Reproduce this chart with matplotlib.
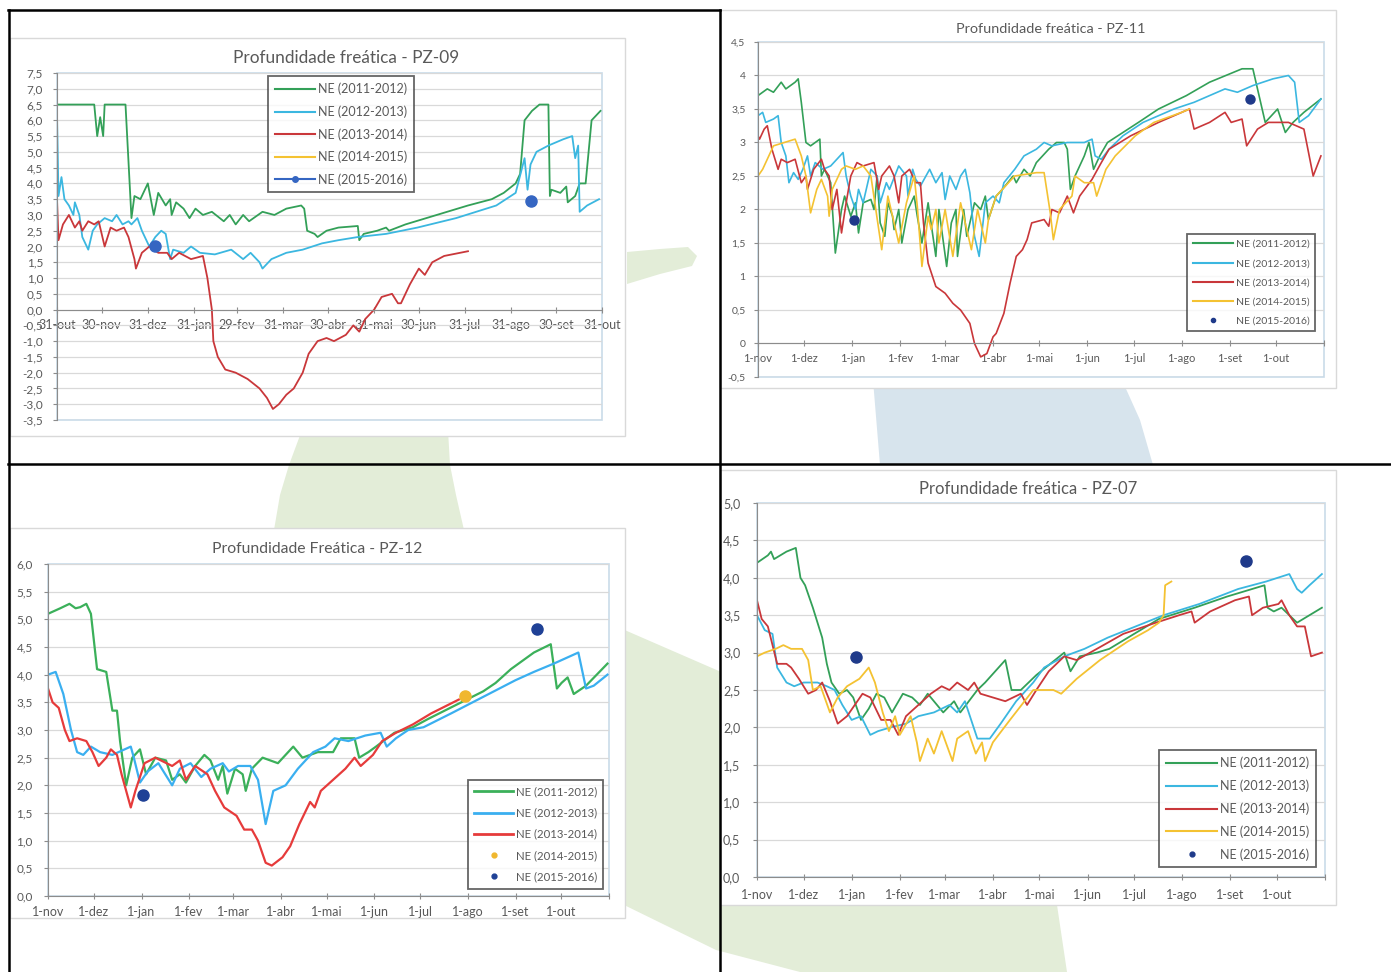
import numpy as np
import matplotlib.pyplot as plt
from matplotlib.lines import Line2D
from matplotlib.patches import Polygon, Rectangle
from matplotlib.ticker import FuncFormatter, FixedLocator

W, H = 1391, 972

# ---- eixo x (dias desde o início do ano hidrológico) ----
month_pos = [0, 30, 61, 92, 121, 152, 182, 213, 243, 274, 305, 335, 366]
labels_pz09 = ["31-out", "30-nov", "31-dez", "31-jan", "29-fev", "31-mar", "30-abr",
               "31-mai", "30-jun", "31-jul", "31-ago", "30-set", "31-out"]
labels_1m = ["1-nov", "1-dez", "1-jan", "1-fev", "1-mar", "1-abr", "1-mai",
             "1-jun", "1-jul", "1-ago", "1-set", "1-out", ""]
series_names = ["NE (2011-2012)", "NE (2012-2013)", "NE (2013-2014)",
                "NE (2014-2015)", "NE (2015-2016)"]

# ---- PZ-09 ----
pz09_green_d = [0, 25, 27, 29, 31, 32, 46, 50, 52, 56, 60, 61, 65, 68, 73, 76, 77, 80, 85, 89,
                93, 98, 104, 112, 116, 120, 125, 129, 138, 146, 154, 164, 166, 168, 173, 175,
                181, 189, 202, 203, 206, 215, 221, 223, 234, 255, 276, 292, 300, 308, 311,
                314, 319, 324, 330, 331, 332, 338, 342, 343, 348, 351, 355, 359, 365]
pz09_green_v = [6.5, 6.5, 5.5, 6.1, 5.5, 6.5, 6.5, 2.9, 3.6, 3.5, 3.9, 4.0, 3.0, 3.7, 3.3, 3.5,
                3.0, 3.4, 3.2, 2.9, 3.2, 3.0, 3.1, 2.8, 3.0, 2.7, 3.0, 2.8, 3.1, 3.0, 3.2, 3.3,
                3.2, 2.5, 2.4, 2.3, 2.5, 2.6, 2.65, 2.2, 2.4, 2.5, 2.6, 2.5, 2.7, 3.0, 3.3,
                3.5, 3.7, 4.0, 4.3, 6.0, 6.3, 6.5, 6.5, 3.6, 3.8, 3.7, 3.9, 3.4, 3.6, 4.0,
                4.0, 6.0, 6.3]
pz09_cyan_d = [0, 1, 3, 5, 8, 11, 12, 15, 17, 20, 21, 24, 27, 32, 37, 40, 44, 48, 50, 54, 57,
               60, 62, 66, 70, 73, 76, 78, 85, 90, 96, 106, 117, 125, 130, 136, 138, 144, 154,
               165, 178, 189, 202, 221, 242, 268, 295, 308, 314, 316, 318, 322, 330, 340,
               346, 348, 350, 351, 356, 364]
pz09_cyan_v = [6.2, 3.6, 4.2, 3.5, 3.3, 3.0, 3.4, 3.0, 2.3, 2.0, 1.9, 2.5, 2.7, 2.9, 2.8, 3.0,
               2.7, 2.8, 2.7, 2.9, 2.5, 2.2, 2.0, 2.3, 2.5, 2.4, 1.6, 1.9, 1.8, 2.0, 1.8, 1.75,
               1.9, 1.6, 1.8, 1.5, 1.3, 1.6, 1.8, 1.9, 2.1, 2.2, 2.3, 2.4, 2.6, 2.9, 3.3, 3.7,
               4.8, 3.8, 4.6, 5.0, 5.2, 5.4, 5.5, 4.8, 5.2, 3.1, 3.3, 3.5]
pz09_red_d = [0, 1, 4, 8, 12, 15, 17, 21, 25, 28, 32, 36, 40, 45, 48, 52, 53, 57, 62, 68, 74,
              77, 82, 90, 98, 101, 104, 105, 108, 113, 120, 128, 136, 141, 145, 149, 154, 159,
              165, 169, 175, 181, 186, 194, 199, 203, 207, 213, 218, 225, 229, 231, 237, 243,
              247, 252, 260, 276]
pz09_red_v = [3.5, 2.2, 2.7, 3.0, 2.6, 2.8, 2.5, 2.8, 2.7, 2.8, 2.0, 2.6, 2.5, 2.6, 2.3, 1.6,
              1.3, 1.8, 2.0, 1.8, 1.8, 1.6, 1.8, 1.6, 1.7, 1.0, 0.0, -1.0, -1.5, -1.9, -2.0,
              -2.2, -2.5, -2.8, -3.15, -3.0, -2.7, -2.5, -2.0, -1.4, -1.0, -0.9, -1.0, -0.8,
              -0.5, -0.7, -0.3, 0.0, 0.4, 0.5, 0.2, 0.2, 0.8, 1.3, 1.1, 1.5, 1.7, 1.85]
pz09_yellow_d = []
pz09_yellow_v = []
pz09_blue_d = [66, 318]
pz09_blue_v = [2.0, 3.43]

# ---- PZ-11 ----
pz11_green_d = [0, 6, 10, 15, 18, 24, 26, 28, 31, 34, 40, 41, 43, 47, 50, 54, 56, 60, 63, 65,
                68, 73, 75, 77, 79, 82, 84, 87, 88, 91, 93, 97, 101, 103, 106, 110, 115, 117,
                122, 125, 128, 129, 133, 135, 140, 144, 147, 149, 154, 158, 165, 167, 172,
                176, 180, 188, 193, 198, 200, 202, 205, 211, 214, 217, 221, 226, 236, 246,
                259, 277, 292, 313, 320, 328, 332, 336, 341, 346, 353, 364]
pz11_green_v = [3.7, 3.8, 3.75, 3.9, 3.8, 3.9, 3.95, 3.6, 3.0, 2.95, 3.05, 2.5, 2.6, 2.4, 1.35,
                2.0, 2.2, 1.9, 2.1, 1.65, 2.1, 2.15, 2.0, 2.5, 1.8, 1.6, 2.1, 1.9, 1.7, 2.0,
                1.5, 2.0, 2.2, 1.9, 1.5, 2.1, 1.3, 2.0, 1.15, 1.8, 2.0, 1.3, 2.0, 1.6, 2.1,
                2.0, 2.2, 1.85, 2.2, 2.3, 2.5, 2.4, 2.6, 2.5, 2.7, 2.9, 3.0, 3.0, 2.9, 2.3,
                2.5, 2.8, 3.0, 2.6, 2.8, 3.0, 3.15, 3.3, 3.5, 3.7, 3.9, 4.1, 4.1, 3.3, 3.4,
                3.5, 3.15, 3.3, 3.45, 3.65]
pz11_cyan_d = [0, 3, 5, 10, 13, 15, 18, 20, 23, 26, 29, 32, 34, 37, 42, 47, 55, 57, 60, 63,
               65, 68, 73, 77, 79, 83, 85, 91, 96, 97, 100, 102, 105, 111, 115, 119, 121, 124,
               128, 131, 134, 137, 140, 143, 147, 152, 156, 159, 166, 172, 180, 185, 190,
               200, 211, 216, 218, 222, 227, 236, 249, 269, 282, 302, 310, 320, 333, 343,
               347, 350, 356, 364]
pz11_cyan_v = [3.4, 3.45, 3.3, 3.35, 3.4, 3.0, 2.8, 2.4, 2.55, 2.45, 2.6, 2.8, 2.5, 2.7, 2.6,
               2.65, 2.85, 2.5, 2.2, 2.0, 2.3, 2.1, 2.6, 2.5, 2.1, 2.4, 2.3, 2.65, 2.5, 2.2,
               2.6, 2.45, 2.35, 2.6, 2.4, 2.55, 2.15, 2.5, 2.3, 2.5, 2.6, 2.25, 1.6, 1.3, 2.1,
               2.2, 2.1, 2.4, 2.6, 2.8, 2.9, 3.0, 2.95, 3.0, 3.0, 3.05, 2.8, 2.75, 2.9, 3.1,
               3.3, 3.5, 3.6, 3.8, 3.75, 3.85, 3.95, 4.0, 3.9, 3.3, 3.4, 3.65]
pz11_red_d = [0, 1, 4, 6, 9, 13, 15, 19, 24, 28, 31, 32, 36, 41, 43, 46, 48, 51, 54, 57, 60,
              64, 68, 75, 78, 80, 85, 88, 91, 93, 98, 102, 105, 107, 110, 115, 121, 126, 131,
              137, 140, 144, 148, 152, 154, 159, 163, 167, 171, 174, 177, 185, 188, 190, 195,
              200, 204, 208, 216, 222, 227, 241, 259, 279, 282, 292, 302, 306, 313, 316, 323,
              330, 343, 353, 359, 364]
pz11_red_v = [3.1, 3.05, 3.2, 3.25, 2.9, 2.6, 2.75, 2.7, 2.75, 2.4, 2.5, 2.3, 2.6, 2.75, 2.6,
              2.5, 2.0, 2.3, 1.65, 2.1, 2.5, 2.7, 2.65, 2.7, 2.3, 2.5, 2.65, 2.5, 2.1, 2.5,
              2.6, 2.4, 2.4, 1.8, 1.2, 0.85, 0.75, 0.6, 0.5, 0.3, 0.0, -0.2, -0.15, 0.1, 0.15,
              0.45, 0.9, 1.3, 1.4, 1.55, 1.8, 1.85, 1.75, 2.0, 1.95, 2.2, 1.95, 2.2, 2.45,
              2.7, 2.9, 3.1, 3.3, 3.5, 3.2, 3.3, 3.45, 3.3, 3.35, 2.95, 3.2, 3.3, 3.3, 3.2,
              2.5, 2.8]
pz11_yellow_d = [0, 3, 6, 10, 24, 28, 31, 34, 38, 41, 45, 46, 48, 54, 57, 63, 68, 73, 80, 84,
                 91, 96, 101, 103, 106, 110, 112, 115, 117, 121, 126, 131, 138, 142, 147, 149,
                 154, 158, 166, 180, 185, 189, 191, 195, 203, 205, 211, 217, 219, 225, 231,
                 244, 256, 274, 279]
pz11_yellow_v = [2.5, 2.6, 2.75, 2.95, 3.05, 2.8, 2.5, 1.95, 2.3, 2.45, 2.2, 1.9, 2.3, 2.6,
                 2.65, 2.6, 2.65, 2.5, 1.4, 2.2, 1.5, 2.1, 2.5, 2.05, 1.15, 1.9, 1.7, 2.0, 1.5,
                 2.0, 1.3, 2.1, 1.4, 2.0, 1.5, 1.85, 2.2, 2.3, 2.5, 2.55, 2.55, 1.95, 1.55, 2.0,
                 2.2, 2.5, 2.4, 2.4, 2.2, 2.6, 2.8, 3.1, 3.3, 3.45, 3.5]
pz11_blue_d = [62, 318]
pz11_blue_v = [1.85, 3.65]

# ---- PZ-12 ----
pz12_green_d = [0, 8, 14, 18, 21, 25, 28, 30, 32, 38, 42, 45, 47, 50, 51, 55, 60, 64, 70, 77,
                81, 86, 90, 96, 102, 106, 111, 114, 117, 122, 127, 129, 133, 140, 150, 160,
                166, 176, 186, 191, 200, 203, 209, 214, 226, 238, 248, 266, 284, 292, 302,
                317, 328, 332, 335, 339, 343, 351, 365]
pz12_green_v = [5.1, 5.2, 5.28, 5.2, 5.22, 5.28, 5.1, 4.6, 4.1, 4.05, 3.35, 3.35, 2.8, 2.2,
                2.0, 2.5, 2.65, 2.2, 2.5, 2.45, 2.1, 2.2, 2.05, 2.35, 2.55, 2.45, 2.1, 2.35,
                1.85, 2.3, 2.2, 1.9, 2.3, 2.5, 2.4, 2.7, 2.5, 2.6, 2.6, 2.85, 2.85, 2.5, 2.6,
                2.7, 2.95, 3.05, 3.2, 3.45, 3.7, 3.85, 4.1, 4.4, 4.55, 3.75, 3.85, 3.95, 3.65,
                3.8, 4.2]
pz12_cyan_d = [0, 5, 10, 15, 19, 23, 28, 34, 42, 54, 56, 60, 65, 72, 81, 86, 93, 100, 106,
               114, 118, 124, 132, 137, 142, 147, 155, 163, 173, 181, 187, 196, 207, 217, 221,
               227, 235, 245, 263, 284, 305, 317, 330, 346, 351, 356, 365]
pz12_cyan_v = [4.0, 4.05, 3.65, 3.0, 2.6, 2.55, 2.7, 2.6, 2.55, 2.7, 2.5, 2.05, 2.25, 2.4,
               2.0, 2.3, 2.4, 2.15, 2.3, 2.4, 2.25, 2.35, 2.35, 2.1, 1.3, 1.9, 2.0, 2.3, 2.6,
               2.7, 2.85, 2.8, 2.9, 2.95, 2.7, 2.85, 3.0, 3.05, 3.3, 3.6, 3.9, 4.05, 4.2, 4.4,
               3.75, 3.8, 4.0]
pz12_red_d = [0, 3, 7, 11, 14, 19, 25, 29, 33, 38, 41, 45, 48, 54, 57, 63, 70, 81, 86, 90, 96,
              104, 109, 115, 123, 128, 133, 137, 142, 146, 153, 158, 164, 171, 174, 178, 186,
              194, 200, 204, 212, 218, 227, 238, 250, 268]
pz12_red_v = [3.75, 3.5, 3.4, 3.0, 2.8, 2.85, 2.8, 2.6, 2.35, 2.5, 2.65, 2.55, 2.2, 1.6, 1.9,
              2.4, 2.5, 2.35, 2.45, 2.1, 2.35, 2.2, 1.9, 1.6, 1.45, 1.2, 1.2, 1.0, 0.6, 0.55,
              0.7, 0.9, 1.3, 1.7, 1.6, 1.9, 2.1, 2.3, 2.5, 2.35, 2.55, 2.8, 2.95, 3.1, 3.3,
              3.55]
pz12_yellow_d = [272]
pz12_yellow_v = [3.61]
pz12_blue_d = [62, 319]
pz12_blue_v = [1.82, 4.82]

# ---- PZ-07 ----
pz07_green_d = [0, 7, 9, 11, 15, 19, 25, 28, 31, 36, 42, 45, 48, 53, 58, 62, 67, 72, 77, 82,
                87, 94, 100, 105, 110, 114, 120, 127, 131, 142, 147, 160, 164, 170, 180, 198,
                202, 208, 219, 227, 239, 259, 282, 303, 327, 329, 333, 338, 343, 348, 356, 364]
pz07_green_v = [4.2, 4.3, 4.35, 4.25, 4.3, 4.35, 4.4, 4.0, 3.9, 3.6, 3.2, 2.85, 2.6, 2.45, 2.5,
                2.4, 2.1, 2.25, 2.45, 2.4, 2.2, 2.45, 2.4, 2.3, 2.45, 2.35, 2.2, 2.35, 2.2, 2.5,
                2.6, 2.9, 2.5, 2.5, 2.7, 3.0, 2.75, 2.95, 3.0, 3.05, 3.2, 3.45, 3.6, 3.75, 3.9,
                3.6, 3.55, 3.6, 3.5, 3.4, 3.5, 3.6]
pz07_cyan_d = [0, 5, 10, 13, 19, 24, 30, 39, 45, 50, 55, 61, 67, 73, 78, 86, 96, 104, 114, 124,
               129, 134, 142, 150, 157, 167, 178, 185, 198, 211, 226, 244, 262, 285, 310, 328,
               343, 348, 351, 356, 364]
pz07_cyan_v = [3.5, 3.3, 3.25, 2.8, 2.6, 2.55, 2.6, 2.6, 2.55, 2.5, 2.3, 2.1, 2.15, 1.9, 1.95,
               2.0, 2.05, 2.15, 2.2, 2.3, 2.2, 2.35, 1.85, 1.85, 2.05, 2.35, 2.6, 2.8, 2.95,
               3.05, 3.2, 3.35, 3.5, 3.65, 3.85, 3.95, 4.05, 3.85, 3.8, 3.9, 4.05]
pz07_red_d = [0, 3, 7, 10, 13, 19, 22, 27, 33, 38, 42, 47, 52, 58, 63, 68, 73, 80, 86, 91, 96,
              104, 112, 119, 124, 129, 136, 140, 144, 152, 160, 170, 174, 180, 188, 198, 206,
              219, 236, 257, 272, 280, 282, 292, 308, 317, 319, 326, 336, 338, 343, 348, 353,
              357, 364]
pz07_red_v = [3.7, 3.45, 3.35, 3.1, 2.85, 2.85, 2.8, 2.65, 2.45, 2.5, 2.6, 2.35, 2.05, 2.15,
              2.3, 2.45, 2.4, 2.1, 2.1, 1.9, 2.15, 2.3, 2.45, 2.55, 2.5, 2.6, 2.5, 2.6, 2.45,
              2.4, 2.35, 2.45, 2.3, 2.5, 2.75, 2.95, 2.9, 3.05, 3.25, 3.4, 3.5, 3.55, 3.4, 3.55,
              3.7, 3.75, 3.5, 3.6, 3.65, 3.7, 3.5, 3.35, 3.35, 2.95, 3.0]
pz07_yellow_d = [0, 5, 12, 17, 22, 29, 33, 36, 41, 47, 52, 58, 66, 72, 76, 81, 85, 89, 92, 99,
                 103, 105, 110, 114, 119, 126, 129, 136, 141, 145, 147, 152, 163, 178, 191,
                 196, 206, 221, 239, 252, 259, 262, 263, 267]
pz07_yellow_v = [2.95, 3.0, 3.05, 3.1, 3.05, 3.05, 2.9, 2.5, 2.55, 2.2, 2.4, 2.55, 2.65, 2.8,
                 2.6, 2.2, 1.95, 2.15, 1.9, 2.15, 1.8, 1.55, 1.85, 1.65, 1.95, 1.55, 1.85, 1.95,
                 1.65, 1.8, 1.55, 1.8, 2.1, 2.5, 2.5, 2.45, 2.65, 2.9, 3.15, 3.3, 3.4, 3.5, 3.9,
                 3.95]
pz07_blue_d = [64, 315]
pz07_blue_v = [2.94, 4.23]

GREEN = "#33a058"
CYAN = "#3bb7e0"
RED = "#c9373a"
YELLOW = "#f4c232"
NAVY = "#1f3a8a"
TXT = "#595959"
FRAME = "#c9dbe9"
AXIS = "#8c8c8c"

plt.rcParams['font.family'] = ['Lato', 'DejaVu Sans']

fig = plt.figure(figsize=(W / 100, H / 100), dpi=100)

# fundo: marca d'água + tabela
bg = fig.add_axes([0, 0, 1, 1])
bg.set_xlim(0, W)
bg.set_ylim(H, 0)
bg.axis('off')
wm_green = "#e3edd8"
wm_blue = "#d7e4ed"
bg.add_patch(Polygon([(302, 430), (448, 430), (450, 465), (456, 495), (464, 530),
                      (274, 530), (280, 495), (289, 465)], closed=True, fc=wm_green, ec='none'))
bg.add_patch(Polygon([(627, 252), (660, 249), (688, 247), (697, 256), (692, 266),
                      (660, 274), (627, 284)], closed=True, fc=wm_green, ec='none'))
bg.add_patch(Polygon([(620, 628), (1050, 815), (1057, 905), (1067, 972), (800, 972),
                      (716, 950), (620, 903)], closed=True, fc=wm_green, ec='none'))
bg.add_patch(Polygon([(873, 380), (1122, 380), (1140, 420), (1153, 465), (880, 465)],
                     closed=True, fc=wm_blue, ec='none'))

for (x0, y0, x1, y1) in [(10, 38, 625, 436), (720, 10, 1336, 388),
                         (10, 528, 625, 918), (720, 470, 1336, 905)]:
    bg.add_patch(Rectangle((x0, y0), x1 - x0, y1 - y0, fc='white', ec='#d9d9d9', lw=1))

bg.plot([8, 720], [10, 10], color='black', lw=1.8)
bg.plot([9, 9], [10, 972], color='black', lw=1.8)
bg.plot([720, 720], [10, 972], color='black', lw=1.8)
bg.plot([8, 1391], [464, 464], color='black', lw=1.8)


def px_axes(x0, y0, x1, y1):
    return fig.add_axes([x0 / W, 1 - y1 / H, (x1 - x0) / W, (y1 - y0) / H])


def style(ax, ymin, ymax, fmt, xlabels, xfs, yfs, xpad, ypad, zero_axis=False):
    ax.set_xlim(0, 366)
    ax.set_ylim(ymin, ymax)
    ticks = np.arange(ymin, ymax + 0.01, 0.5)
    ax.yaxis.set_major_locator(FixedLocator(ticks))
    ax.yaxis.set_major_formatter(FuncFormatter(fmt))
    ax.xaxis.set_major_locator(FixedLocator(month_pos))
    ax.set_xticklabels(xlabels)
    ax.grid(axis='y', color='#d9d9d9', lw=0.9)
    ax.set_axisbelow(True)
    for s in ['top', 'right']:
        ax.spines[s].set_visible(False)
    ax.spines['left'].set_color(AXIS)
    ax.spines['bottom'].set_color(AXIS)
    if zero_axis:
        ax.spines['bottom'].set_position(('data', 0))
    ax.add_patch(Rectangle((0, 0), 1, 1, transform=ax.transAxes, fill=False,
                           ec=FRAME, lw=1.2, clip_on=False, zorder=0.5))
    ax.tick_params(axis='both', colors=AXIS, labelcolor=TXT, length=3, width=0.8)
    ax.tick_params(axis='x', labelsize=xfs, pad=xpad, direction='inout', length=5)
    ax.tick_params(axis='y', labelsize=yfs, pad=ypad)


fmt1 = lambda v, p: f"{v:.1f}".replace('.', ',')
fmtg = lambda v, p: f"{v:g}".replace('.', ',')


def legend(ax, handles, x0, y0, fs, spacing, hlen):
    leg = ax.legend(handles=handles, loc='upper left', bbox_to_anchor=(x0 / W, 1 - y0 / H),
                    bbox_transform=fig.transFigure, fontsize=fs, frameon=True,
                    fancybox=False, edgecolor='#404040', handlelength=hlen,
                    labelspacing=spacing, borderpad=0.55, handletextpad=0.25,
                    borderaxespad=0)
    leg.get_frame().set_linewidth(1.3)
    for t in leg.get_texts():
        t.set_color(TXT)


# ---- PZ-09 ----
ax = px_axes(57, 73, 602, 420)
style(ax, -3.5, 7.5, fmt1, labels_pz09, 9, 8.5, 4, 7, zero_axis=True)
ax.plot(pz09_green_d, pz09_green_v, color=GREEN, lw=1.3)
ax.plot(pz09_cyan_d, pz09_cyan_v, color=CYAN, lw=1.3)
ax.plot(pz09_red_d, pz09_red_v, color=RED, lw=1.3)
ax.plot(pz09_yellow_d, pz09_yellow_v, color=YELLOW, lw=1.3)
ax.plot(pz09_blue_d, pz09_blue_v, 'o', color="#3566c2", ms=8)
h = [Line2D([], [], color=GREEN, lw=1.5), Line2D([], [], color=CYAN, lw=1.5),
     Line2D([], [], color=RED, lw=1.5), Line2D([], [], color=YELLOW, lw=1.5),
     Line2D([], [], color="#3566c2", lw=1.5, marker='o', ms=4)]
for hh, n in zip(h, series_names):
    hh.set_label(n)
legend(ax, h, 268, 76, 9, 0.8, 3.2)
fig.text(346 / W, 1 - 58 / H, "Profundidade freática - PZ-09", ha='center', va='center',
         fontsize=12.4, color=TXT)

# ---- PZ-11 ----
ax = px_axes(758, 42, 1324, 377)
style(ax, -0.5, 4.5, fmtg, labels_1m, 8, 7.5, 4, 6, zero_axis=True)
ax.plot(pz11_green_d, pz11_green_v, color=GREEN, lw=1.2)
ax.plot(pz11_cyan_d, pz11_cyan_v, color=CYAN, lw=1.2)
ax.plot(pz11_red_d, pz11_red_v, color=RED, lw=1.2)
ax.plot(pz11_yellow_d, pz11_yellow_v, color=YELLOW, lw=1.2)
ax.plot(pz11_blue_d, pz11_blue_v, 'o', color=NAVY, ms=6.5)
h = [Line2D([], [], color=GREEN, lw=1.5), Line2D([], [], color=CYAN, lw=1.5),
     Line2D([], [], color=RED, lw=1.5), Line2D([], [], color=YELLOW, lw=1.5),
     Line2D([], [], color=NAVY, ls='none', marker='o', ms=3)]
for hh, n in zip(h, series_names):
    hh.set_label(n)
legend(ax, h, 1187, 234, 7.5, 0.95, 3.9)
fig.text(1051 / W, 1 - 29 / H, "Profundidade freática - PZ-11", ha='center', va='center',
         fontsize=10.4, color=TXT)

# ---- PZ-12 ----
ax = px_axes(48, 564, 609, 896)
style(ax, 0.0, 6.0, fmt1, labels_1m, 9, 8.5, 5, 8)
ax.plot(pz12_green_d, pz12_green_v, color="#3bb05a", lw=1.6)
ax.plot(pz12_cyan_d, pz12_cyan_v, color="#3aaff0", lw=1.6)
ax.plot(pz12_red_d, pz12_red_v, color="#e63b3b", lw=1.6)
ax.plot(pz12_yellow_d, pz12_yellow_v, 'o', color="#f0b72e", ms=8)
ax.plot(pz12_blue_d, pz12_blue_v, 'o', color="#1f4196", ms=8)
h = [Line2D([], [], color="#3bb05a", lw=2), Line2D([], [], color="#3aaff0", lw=2),
     Line2D([], [], color="#e63b3b", lw=2),
     Line2D([], [], color="#f0b72e", ls='none', marker='o', ms=3.5),
     Line2D([], [], color="#1f4196", ls='none', marker='o', ms=3.5)]
for hh, n in zip(h, series_names):
    hh.set_label(n)
legend(ax, h, 468, 780, 8.2, 0.9, 3.4)
fig.text(317 / W, 1 - 549 / H, "Profundidade Freática - PZ-12", ha='center', va='center',
         fontsize=11.3, color=TXT)

# ---- PZ-07 ----
ax = px_axes(757, 503, 1325, 877)
style(ax, 0.0, 5.0, fmt1, labels_1m, 9, 9, 6, 9)
ax.plot(pz07_green_d, pz07_green_v, color=GREEN, lw=1.3)
ax.plot(pz07_cyan_d, pz07_cyan_v, color=CYAN, lw=1.3)
ax.plot(pz07_red_d, pz07_red_v, color=RED, lw=1.3)
ax.plot(pz07_yellow_d, pz07_yellow_v, color=YELLOW, lw=1.3)
ax.plot(pz07_blue_d, pz07_blue_v, 'o', color=NAVY, ms=8)
h = [Line2D([], [], color=GREEN, lw=1.5), Line2D([], [], color=CYAN, lw=1.5),
     Line2D([], [], color=RED, lw=1.5), Line2D([], [], color=YELLOW, lw=1.5),
     Line2D([], [], color=NAVY, ls='none', marker='o', ms=3.5)]
for hh, n in zip(h, series_names):
    hh.set_label(n)
legend(ax, h, 1159, 750, 9, 0.82, 4.1)
fig.text(1028 / W, 1 - 489 / H, "Profundidade freática - PZ-07", ha='center', va='center',
         fontsize=12, color=TXT)

fig.savefig("out.png", dpi=100)
